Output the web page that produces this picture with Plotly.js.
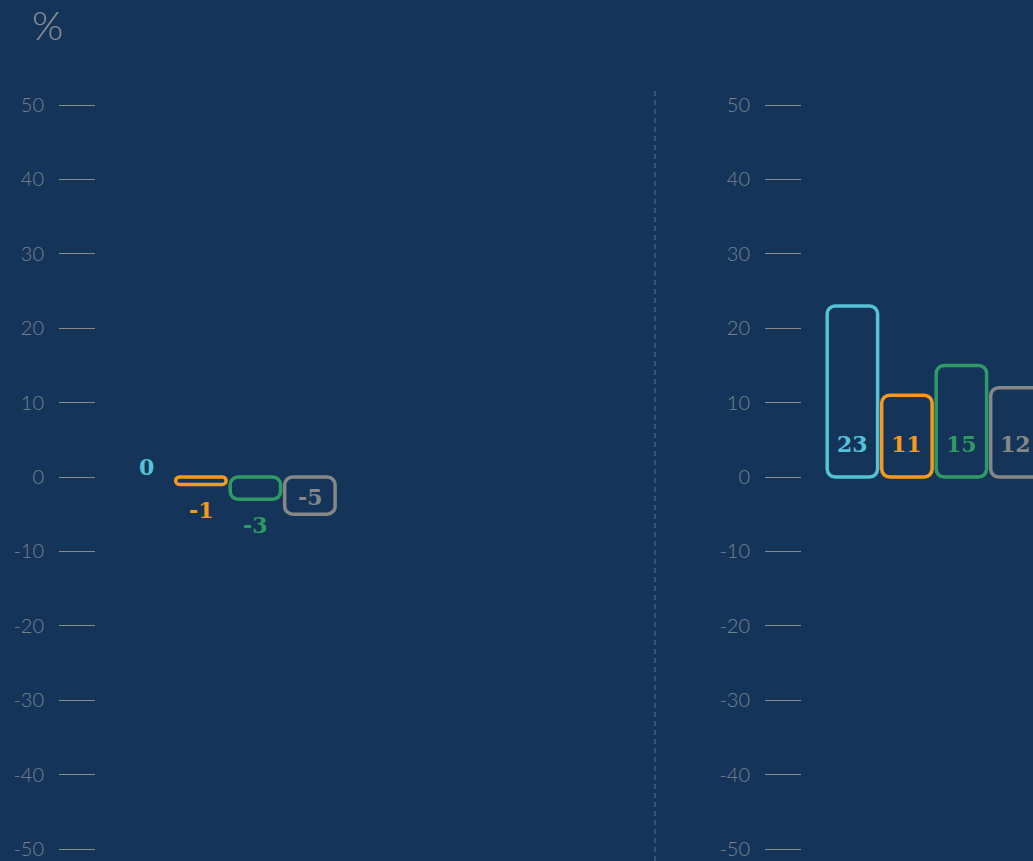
<!DOCTYPE html>
<html><head><meta charset="utf-8">
<script src="https://cdn.plot.ly/plotly-3.0.1.min.js"></script>
<style>html,body{margin:0;padding:0;background:#143559;overflow:hidden;width:1033px;height:861px}#chart{width:1400px;height:861px}</style>
</head><body><div id="chart"></div>
<script>
// ---- data ----
const categories = ['Series 1', 'Series 2', 'Series 3', 'Series 4'];
const leftValues = [0, -1, -3, -5];
const rightValues = [23, 11, 15, 12];
const leftLabels = ['0', '-1', '-3', '-5'];
const rightLabels = ['23', '11', '15', '12'];
const yTickValues = [-50, -40, -30, -20, -10, 0, 10, 20, 30, 40, 50];
const yTickLabels = ['-50', '-40', '-30', '-20', '-10', '0', '10', '20', '30', '40', '50'];
const unitLabel = '%';

// ---- style ----
const COLORS = ['#56c2d6', '#f7991c', '#2f9a64', '#878787'];
const BG = '#143559';
const W = 1400, H = 861;
const TOP = 105, BOTTOM = 849;
const PX_PER_CAT = 54.5;
const PANEL_PX = 559;
const AXIS_LEFT = [96, 802];
const pxPerY = (BOTTOM - TOP) / 100;
const xStart = -50.4 / PX_PER_CAT;
const xRange = [xStart, xStart + PANEL_PX / PX_PER_CAT];
const BAR_W = 0.925;
const RADIUS_PX = 8;
const K = 0.5523;

const xPos = categories.map((c, i) => i);

function roundedBar(cx, v, xref, yref, color) {
  const top = Math.max(0, v), bot = Math.min(0, v);
  const hPx = Math.abs(v) * pxPerY;
  const rPx = Math.min(RADIUS_PX, hPx / 2);
  const rx = rPx / PX_PER_CAT, ry = rPx / pxPerY;
  const xl = cx - BAR_W / 2, xr = cx + BAR_W / 2;
  const p = [
    `M${xl + rx},${top}`,
    `L${xr - rx},${top}`,
    `C${xr - rx + K * rx},${top} ${xr},${top - ry + K * ry} ${xr},${top - ry}`,
    `L${xr},${bot + ry}`,
    `C${xr},${bot + ry - K * ry} ${xr - rx + K * rx},${bot} ${xr - rx},${bot}`,
    `L${xl + rx},${bot}`,
    `C${xl + rx - K * rx},${bot} ${xl},${bot + ry - K * ry} ${xl},${bot + ry}`,
    `L${xl},${top - ry}`,
    `C${xl},${top - ry + K * ry} ${xl + rx - K * rx},${top} ${xl + rx},${top}`,
    'Z'
  ].join(' ');
  return {type: 'path', xref, yref, path: p, layer: 'above',
          line: {color, width: 3.5}, fillcolor: 'rgba(0,0,0,0)'};
}

function valueLabel(cx, v, text, xref, yref, color) {
  const hPx = Math.abs(v) * pxPerY;
  const a = {x: cx, xref, yref, text, showarrow: false,
             font: {family: 'DejaVu Serif', size: 22, weight: 700, color}};
  if (v > 0) { a.y = 0; a.yanchor = 'middle'; a.yshift = 33; }
  else if (v === 0) { a.y = 0; a.yanchor = 'middle'; a.yshift = 10; }
  else if (hPx > 30) { a.y = v / 2; a.yanchor = 'middle'; a.yshift = -1; }
  else { a.y = v; a.yanchor = 'top'; a.yshift = -11; }
  return a;
}

const traces = [];
const shapes = [];
const annotations = [];
[[leftValues, leftLabels, 'x', 'y'], [rightValues, rightLabels, 'x2', 'y2']].forEach(([vals, labs, xr, yr]) => {
  traces.push({type: 'bar', x: xPos, y: vals, xaxis: xr, yaxis: yr, width: BAR_W,
    hovertext: categories, hoverinfo: 'text+y', textposition: 'none', showlegend: false,
    marker: {color: 'rgba(0,0,0,0)', line: {width: 0}}});
  vals.forEach((v, i) => {
    if (v !== 0) shapes.push(roundedBar(xPos[i], v, xr, yr, COLORS[i]));
    annotations.push(valueLabel(xPos[i], v, labs[i], xr, yr, COLORS[i]));
  });
});

shapes.push({type: 'line', xref: 'paper', yref: 'paper',
  x0: 655 / W, x1: 655 / W, y0: -(H - BOTTOM) / (BOTTOM - TOP), y1: 1 + (TOP - 88) / (BOTTOM - TOP),
  line: {color: '#3a6290', width: 1.5, dash: '5px,4px'}});

annotations.push({xref: 'paper', yref: 'paper', x: 47 / W, y: 1 + (TOP - 25) / (BOTTOM - TOP),
  xanchor: 'center', yanchor: 'middle', text: unitLabel, showarrow: false,
  font: {family: 'Lato', size: 40, weight: 300, color: '#8a9098'}});

function yAxis(anchor) {
  return {anchor, domain: [0, 1], range: [-50, 50], tickmode: 'array',
    tickvals: yTickValues, ticktext: yTickLabels, ticks: 'outside', ticklen: 36,
    tickwidth: 1, tickcolor: '#8a8a8a', ticklabelstandoff: 11,
    tickfont: {family: 'Lato', size: 20, weight: 300, color: '#77818e'},
    showgrid: false, zeroline: false, showline: false, automargin: false, fixedrange: true};
}
function xAxis(i, anchor) {
  return {domain: [AXIS_LEFT[i] / W, (AXIS_LEFT[i] + PANEL_PX) / W], range: xRange, anchor,
    visible: false, showgrid: false, zeroline: false, automargin: false, fixedrange: true};
}

const layout = {
  width: W, height: H, paper_bgcolor: BG, plot_bgcolor: BG,
  margin: {l: 0, r: 0, t: TOP, b: H - BOTTOM, pad: 0},
  xaxis: xAxis(0, 'y'), xaxis2: xAxis(1, 'y2'),
  yaxis: yAxis('x'), yaxis2: yAxis('x2'),
  shapes, annotations, showlegend: false, bargap: 0
};

Plotly.newPlot('chart', traces, layout, {displayModeBar: false, staticPlot: true});
</script></body></html>
